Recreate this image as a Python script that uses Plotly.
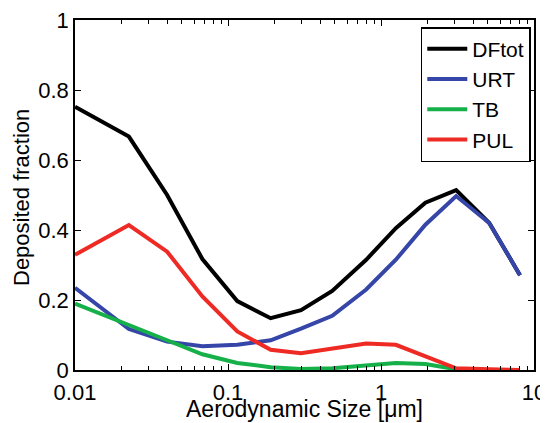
import plotly.graph_objects as go

size_um = [0.01, 0.0225, 0.04, 0.068, 0.115, 0.19, 0.3, 0.48, 0.8, 1.25, 1.95, 3.1, 5.1, 8.1]
dftot = [0.752, 0.667, 0.50, 0.317, 0.197, 0.148, 0.171, 0.226, 0.315, 0.405, 0.478, 0.514, 0.42, 0.271]
urt = [0.235, 0.117, 0.081, 0.068, 0.072, 0.085, 0.118, 0.155, 0.23, 0.315, 0.415, 0.497, 0.42, 0.271]
tb = [0.19, 0.13, 0.085, 0.045, 0.02, 0.008, 0.003, 0.005, 0.012, 0.02, 0.017, 0.002, 0.0, 0.0]
pul = [0.329, 0.414, 0.338, 0.21, 0.11, 0.058, 0.048, 0.062, 0.076, 0.072, 0.04, 0.005, 0.002, 0.0]

series = [
    ("DFtot", dftot, "#000000"),
    ("URT", urt, "#3545a8"),
    ("TB", tb, "#16b04a"),
    ("PUL", pul, "#ee2a24"),
]

fig = go.Figure()
for name, vals, col in series:
    fig.add_trace(go.Scatter(x=size_um, y=vals, mode="lines", name=name,
                             line=dict(color=col, width=4)))

font_family = "Liberation Sans, Arial, sans-serif"
fig.update_layout(
    width=540, height=415,
    margin=dict(l=67, r=14, t=12, b=53),
    paper_bgcolor="white", plot_bgcolor="white",
    font=dict(family=font_family, size=22, color="black"),
    showlegend=True,
    legend=dict(x=0.993, y=0.98, xanchor="right", yanchor="top",
                bgcolor="white", bordercolor="black", borderwidth=1.5,
                font=dict(size=21), tracegroupgap=0, itemwidth=40),
    xaxis=dict(type="log", range=[-2, 1],
               tickvals=[0.01, 0.1, 1, 10], ticktext=["0.01", "0.1", "1", "10"],
               ticks="inside", ticklen=6, tickwidth=1.2, tickcolor="black",
               ticklabeloverflow="allow", ticklabelstandoff=2,
               minor=dict(ticks="inside", ticklen=4, tickwidth=1, tickcolor="black",
                          tickvals=[m * 10**e for e in (-2, -1, 0) for m in range(2, 10)]),
               showline=True, linecolor="black", linewidth=1.5, mirror="ticks",
               showgrid=False, zeroline=False, automargin=False),
    yaxis=dict(range=[0, 1], tickvals=[0, 0.2, 0.4, 0.6, 0.8, 1],
               ticktext=["0", "0.2", "0.4", "0.6", "0.8", "1"],
               ticks="inside", ticklen=6, tickwidth=1.2, tickcolor="black",
               ticklabeloverflow="allow",
               showline=True, linecolor="black", linewidth=1.5, mirror="ticks",
               showgrid=False, zeroline=False, automargin=False),
    annotations=[
        dict(text="Aerodynamic Size [μm]", xref="paper", yref="paper",
             x=0.5, y=0, xanchor="center", yanchor="middle", yshift=-39,
             showarrow=False, font=dict(size=23)),
        dict(text="Deposited fraction", xref="paper", yref="paper",
             x=0, y=0.5, xanchor="center", yanchor="middle", xshift=-54, yshift=-3,
             textangle=-90, showarrow=False, font=dict(size=22)),
    ],
)

fig.write_html("out.html")
